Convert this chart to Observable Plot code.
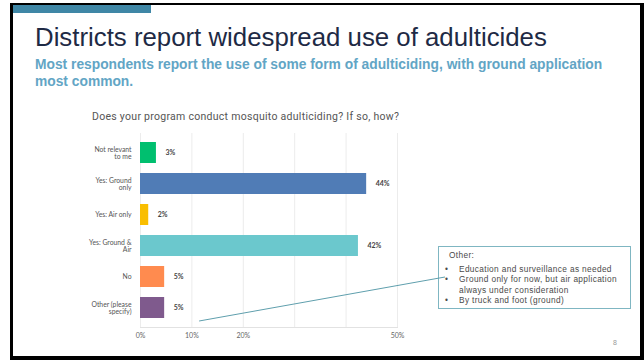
<!DOCTYPE html>
<html>
<head>
<meta charset="utf-8">
<script src="https://cdn.jsdelivr.net/npm/d3@7"></script>
<script src="https://cdn.jsdelivr.net/npm/@observablehq/plot@0.6"></script>
<style>
  html, body { margin: 0; padding: 0; background: #fff; }
  #page { position: relative; width: 644px; height: 360px; overflow: hidden; background: #fff; }
  #frame { position: absolute; left: 10px; top: 3px; width: 634px; height: 357px; box-sizing: border-box;
           border-left: 3px solid #000; border-top: 2px solid #000; border-right: 4px solid #000; border-bottom: 4px solid #000; }
  #accent { position: absolute; left: 13px; top: 5px; width: 138px; height: 8px; background: #3f87a6; }
  .t { position: absolute; white-space: nowrap; }
  #title { left: 35px; top: 22px; font: 25.8px/30px "Liberation Sans", Arial, sans-serif; color: #1e2a45; }
  #subtitle { left: 35px; top: 55.7px; font: bold 13.8px/17px "Liberation Sans", Arial, sans-serif; color: #62a5c5; white-space: normal; width: 582px; }
  #question { left: 92px; top: 110px; font: 10.5px/13px Roboto, sans-serif; letter-spacing: 0.28px; color: #555; }
  #chart { position: absolute; left: 0; top: 0; }
  #note { position: absolute; left: 438px; top: 246px; width: 193px; height: 63px; box-sizing: border-box;
          border: 1px solid #7fb6c2; font: 8.3px/10.5px "Liberation Sans", Arial, sans-serif; letter-spacing: 0.35px;
          color: #4a4a4a; padding: 3px 0 0 6px; }
  #note .nt { padding-left: 4px; }
  #note ul { margin: 3px 0 0 0; padding: 0 0 0 14px; list-style: none; }
  #note li { position: relative; }
  #note li::before { content: "\2022"; position: absolute; left: -14px; top: 0; }
  #pagenum { left: 613px; top: 338px; font: 7px/9px "Liberation Sans", Arial, sans-serif; color: #999; }
  #leader { position: absolute; left: 0; top: 0; pointer-events: none; }
</style>
</head>
<body>
<div id="page">
  <div id="frame"></div>
  <div id="accent"></div>
  <div class="t" id="title"></div>
  <div class="t" id="subtitle"></div>
  <div class="t" id="question"></div>
  <div id="chart"></div>
  <div id="note"></div>
  <div class="t" id="pagenum"></div>
</div>
<script>
// ---- data ----
const titleText = "Districts report widespread use of adulticides";
const subtitleText = "Most respondents report the use of some form of adulticiding, with ground application most common.";
const questionText = "Does your program conduct mosquito adulticiding? If so, how?";
const categories = ["Not relevant to me", "Yes: Ground only", "Yes: Air only", "Yes: Ground & Air", "No", "Other (please specify)"];
const categoryLabels = ["Not relevant\nto me", "Yes: Ground\nonly", "Yes: Air only", "Yes: Ground &\nAir", "No", "Other (please\nspecify)"];
const percents = [3.1, 44.0, 1.6, 42.4, 4.7, 4.7];
const barColors = ["#00bf6f", "#507cb6", "#f9be00", "#6bc8cd", "#ff8b4f", "#7f5a8d"];
const xTickValues = [0, 10, 20, 50];
const gridValues = [0, 10, 20, 30, 40, 50];
const noteTitle = "Other:";
const otherResponses = [
  "Education and surveillance as needed",
  "Ground only for now, but air application always under consideration",
  "By truck and foot (ground)"
];
const pageNumber = "8";

// ---- text ----
document.getElementById("title").textContent = titleText;
document.getElementById("subtitle").textContent = subtitleText;
document.getElementById("question").textContent = questionText;
document.getElementById("pagenum").textContent = pageNumber;
const note = document.getElementById("note");
const nt = document.createElement("div"); nt.className = "nt"; nt.textContent = noteTitle; note.appendChild(nt);
const ul = document.createElement("ul");
otherResponses.forEach(r => { const li = document.createElement("li"); li.textContent = r; ul.appendChild(li); });
note.appendChild(ul);

// ---- chart ----
const data = categories.map((c, i) => ({category: c, value: percents[i]}));
const labelOf = new Map(categories.map((c, i) => [c, categoryLabels[i]]));

const W = 644, H = 360;
const chart = Plot.plot({
  width: W, height: H,
  marginLeft: 140, marginRight: 247, marginTop: 133, marginBottom: 33,
  style: {background: "transparent", fontFamily: "Lato, sans-serif", overflow: "visible"},
  x: {domain: [0, 50]},
  y: {domain: categories, paddingInner: 0.333, paddingOuter: 0.2},
  color: {domain: categories, range: barColors},
  marks: [
    Plot.gridX(gridValues, {stroke: "#ececec", strokeOpacity: 1}),
    Plot.frame({anchor: "bottom", stroke: "#e2e2e2"}),
    Plot.barX(data, {x: "value", y: "category", fill: "category"}),
    Plot.text(data, {x: "value", y: "category", text: d => Math.round(d.value) + "%", dx: 9, textAnchor: "start",
                     fontSize: 7, fontWeight: "bold", fill: "#444"}),
    Plot.axisX(xTickValues, {tickFormat: d => d + "%", tickSize: 0, tickPadding: 6, fontSize: 7, color: "#666", label: null}),
    Plot.axisY({tickSize: 0, tickPadding: 9, tickFormat: d => labelOf.get(d), fontSize: 6.8, lineHeight: 1.12, color: "#555", label: null})
  ]
});
document.getElementById("chart").appendChild(chart);

// leader line from the "Other" bar area to the note box
const xs = d3.scaleLinear().domain([0, 50]).range([140, W - 247]);
const ns = "http://www.w3.org/2000/svg";
const svg = document.createElementNS(ns, "svg");
svg.setAttribute("id", "leader"); svg.setAttribute("width", W); svg.setAttribute("height", H);
const line = document.createElementNS(ns, "line");
line.setAttribute("x1", xs(11.5)); line.setAttribute("y1", 321);
line.setAttribute("x2", 445); line.setAttribute("y2", 277);
line.setAttribute("stroke", "#5f9fad"); line.setAttribute("stroke-width", 1);
svg.appendChild(line);
document.getElementById("page").appendChild(svg);
</script>
</body>
</html>
